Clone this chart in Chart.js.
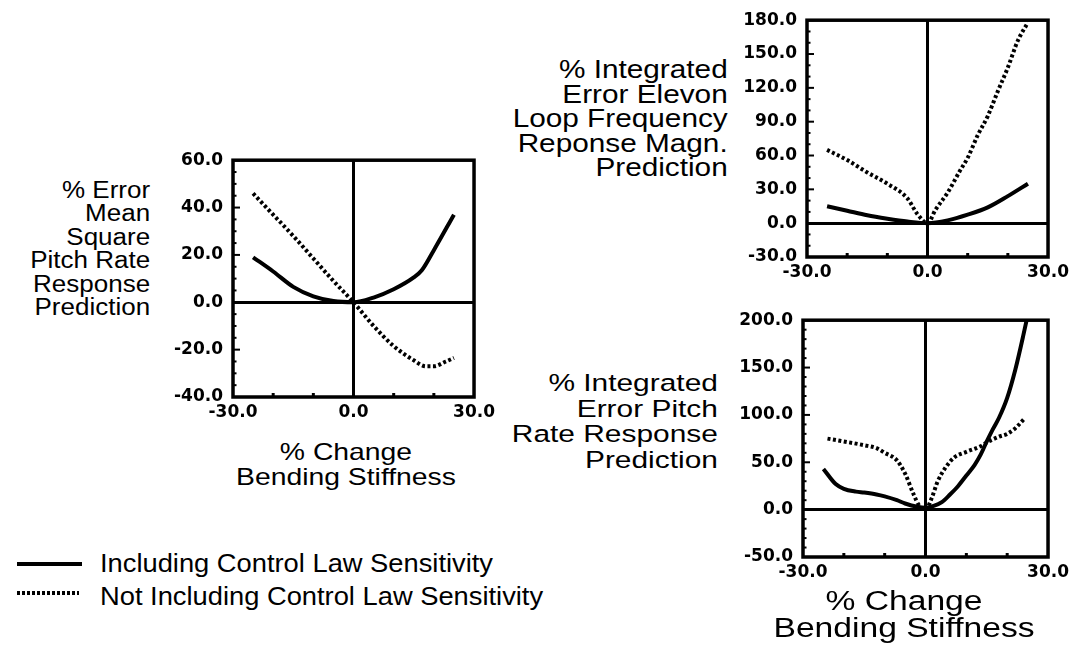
<!DOCTYPE html>
<html>
<head>
<meta charset="utf-8">
<script src="https://cdn.jsdelivr.net/npm/chart.js@4"></script>
<style>
  body { margin: 0; background: #fff; }
  #page { position: relative; width: 1074px; height: 651px; overflow: hidden;
          font-family: "Liberation Sans", Arial, sans-serif; color: #000; }
  canvas { position: absolute; }
  .lbl { position: absolute; white-space: nowrap; }
  .right { text-align: right; transform-origin: right top; }
  .center { text-align: center; transform-origin: center top; }
  .key { position: absolute; height: 4px; }
</style>
</head>
<body>
<div id="page">
  <canvas id="msChart" width="335" height="290" style="left:165px;top:140px"></canvas>
  <canvas id="elevonChart" width="334" height="290" style="left:740px;top:0px"></canvas>
  <canvas id="pitchChart" width="338" height="290" style="left:736px;top:300px"></canvas>

  <div class="lbl right" style="right:924px;top:179px;font-size:23px;line-height:23.4px;transform:scaleX(1.13)">% Error<br>Mean<br>Square<br>Pitch Rate<br>Response<br>Prediction</div>
  <div class="lbl center" style="left:196px;width:300px;top:439px;font-size:24px;line-height:25px;transform:scaleX(1.18)">% Change<br>Bending Stiffness</div>

  <div class="lbl right" style="right:346px;top:57px;font-size:25px;line-height:24.5px;transform:scaleX(1.19)">% Integrated<br>Error Elevon<br>Loop Frequency<br>Reponse Magn.<br>Prediction</div>

  <div class="lbl right" style="right:356px;top:370px;font-size:24.5px;line-height:25.5px;transform:scaleX(1.22)">% Integrated<br>Error Pitch<br>Rate Response<br>Prediction</div>
  <div class="lbl center" style="left:754px;width:300px;top:588px;font-size:27px;line-height:27px;transform:scaleX(1.245)">% Change<br>Bending Stiffness</div>

  <div class="key" style="left:17px;top:562px;width:65px;background:#000"></div>
  <div class="key" style="left:17px;top:591px;width:62px;background:repeating-linear-gradient(90deg,#000 0 3px,transparent 3px 5px)"></div>
  <div class="lbl" style="left:100px;top:549px;font-size:26px;line-height:28px;transform:scaleX(1.05);transform-origin:left top">Including Control Law Sensitivity</div>
  <div class="lbl" style="left:100px;top:582px;font-size:26px;line-height:28px;transform:scaleX(1.05);transform-origin:left top">Not Including Control Law Sensitivity</div>
</div>

<script>
// % error mean square pitch rate response prediction
const msInclX = [-25, -20, -15, -10, -5, 0, 5, 10, 15, 17, 20, 25];
const msInclY = [19, 13, 6.5, 2.5, 0.5, 0, 2, 5.5, 10.5, 13.5, 22, 37];
const msNotX = [-25, -20, -15, -10, -5, 0, 5, 10, 15, 18, 20, 23, 25];
const msNotY = [46, 37, 28, 18.5, 9, 0, -10, -18.5, -24.5, -27, -27, -25, -23.5];

// % integrated error elevon loop frequency response magnitude
const elInclX = [-25, -20, -15, -10, -5, 0, 5, 10, 15, 20, 25];
const elInclY = [15, 11, 7, 4, 1.5, 0, 2.5, 7.5, 14, 24, 35];
const elNotX = [-25, -20, -15, -10, -5, -2.5, 0, 2, 5, 8, 10, 12.5, 15, 17.5, 20, 22.5, 25];
const elNotY = [65, 56, 45, 35, 22, 8, 0, 12, 27, 46, 58, 78, 95, 117, 138, 162, 178];

// % integrated error pitch rate response
const prInclX = [-25, -22, -20, -17, -15, -12, -10, -7, -5, -2, 0, 2, 4, 6, 8, 10, 12, 13.5, 15, 16.5, 18, 20, 22, 24, 25];
const prInclY = [43, 27, 22, 19, 18, 16, 14, 10, 6.5, 3, 2, 4, 8, 16, 25, 36, 47, 58, 72, 85, 97, 118, 148, 185, 205];
const prNotX = [-24, -20, -15, -12, -10, -7, -5, -3, -1.5, 0, 1.5, 3, 5, 7, 10, 13.5, 15, 18, 20, 22, 24];
const prNotY = [75, 72, 68, 65, 60, 52, 38, 17, 4, 0, 12, 30, 45, 55, 61, 67, 71, 77, 80, 86, 95];

const xTicks = [-30, 0, 30];
const xMinorTicks = [-20, -10, 10, 20];

const toPoints = (xs, ys) => xs.map((x, i) => ({ x: x, y: ys[i] }));

//frame, minor ticks
const framePlugin = {
  id: "frame",
  afterDraw(chart, args, opts) {
    const { ctx, chartArea: a, scales } = chart;
    const y = scales.y, x = scales.x;
    ctx.save();
    ctx.strokeStyle = "#000";
    ctx.lineWidth = 2;
    for (let v = y.min; v <= y.max; v += opts.minor) {
      const p = y.getPixelForValue(v);
      const len = v % opts.major === 0 ? 7 : 3.5;
      ctx.beginPath();
      ctx.moveTo(a.left, p);
      ctx.lineTo(a.left + len, p);
      ctx.stroke();
    }
    ctx.lineWidth = 3;
    xMinorTicks.forEach((v) => {
      const p = x.getPixelForValue(v);
      ctx.beginPath();
      ctx.moveTo(p, a.bottom);
      ctx.lineTo(p, a.bottom - 4);
      ctx.stroke();
    });
    ctx.lineWidth = 3.5;
    ctx.strokeRect(a.left, a.top, a.right - a.left, a.bottom - a.top);
    ctx.restore();
  },
};

const tickFont = { family: "'DejaVu Sans', sans-serif", size: 17, weight: "bold" };
const zeroLine = (c) => (c.tick && c.tick.value === 0 ? "#000" : "rgba(0,0,0,0)");

function makeChart(id, incl, notIncl, yMin, yMax, yStep, minor, yWidth, padRight) {
  return new Chart(document.getElementById(id).getContext("2d"), {
    type: "line",
    data: {
      datasets: [
        {
          label: "Including Control Law Sensitivity",
          data: incl,
          borderColor: "#000",
          borderWidth: 4,
          pointRadius: 0,
          cubicInterpolationMode: "monotone",
        },
        {
          label: "Not Including Control Law Sensitivity",
          data: notIncl,
          borderColor: "#000",
          borderWidth: 4,
          borderDash: [3, 2.5],
          pointRadius: 0,
          cubicInterpolationMode: "monotone",
        },
      ],
    },
    options: {
      responsive: false,
      devicePixelRatio: 1,
      animation: false,
      layout: { padding: { top: 15, right: padRight, left: 0, bottom: 0 } },
      plugins: {
        legend: { display: false },
        tooltip: { enabled: false },
        frame: { minor: minor, major: yStep },
      },
      scales: {
        x: {
          type: "linear",
          min: -30,
          max: 30,
          afterBuildTicks: (s) => { s.ticks = xTicks.map((v) => ({ value: v })); },
          afterFit: (s) => { s.height = 33; },
          ticks: { font: tickFont, color: "#000", padding: 5, maxRotation: 0,
                   callback: (v) => v.toFixed(1) },
          grid: { color: zeroLine, lineWidth: 3, drawTicks: false },
          border: { display: false },
        },
        y: {
          min: yMin,
          max: yMax,
          afterFit: (s) => { s.width = yWidth; },
          ticks: { stepSize: yStep, font: tickFont, color: "#000", padding: 10,
                   callback: (v) => v.toFixed(1) },
          grid: { color: zeroLine, lineWidth: 3, drawTicks: false },
          border: { display: false },
        },
      },
    },
    plugins: [framePlugin],
  });
}

makeChart("msChart", toPoints(msInclX, msInclY), toPoints(msNotX, msNotY), -40, 60, 20, 5, 68, 20);
makeChart("elevonChart", toPoints(elInclX, elInclY), toPoints(elNotX, elNotY), -30, 180, 30, 10, 67, 22);
makeChart("pitchChart", toPoints(prInclX, prInclY), toPoints(prNotX, prNotY), -50, 200, 50, 10, 67, 24);
</script>
</body>
</html>
